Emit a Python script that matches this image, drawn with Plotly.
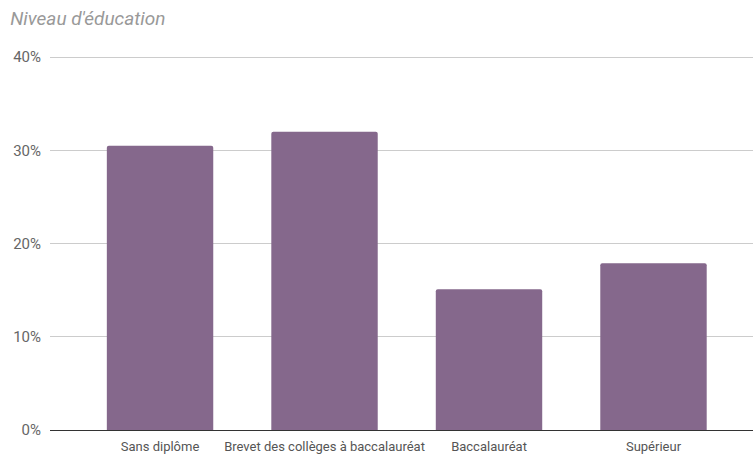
import plotly.graph_objects as go

# Niveau d'éducation - part par niveau
categories = ["Sans diplôme", "Brevet des collèges à baccalauréat", "Baccalauréat", "Supérieur"]
values = [0.305, 0.320, 0.151, 0.179]
y_ticks = [0, 0.1, 0.2, 0.3, 0.4]
y_tick_labels = ["0%", "10%", "20%", "30%", "40%"]

fig = go.Figure(
    go.Bar(
        x=categories,
        y=values,
        width=0.647,
        marker=dict(color="#85688c", line=dict(width=0), cornerradius=2),
        hovertemplate="%{x}: %{y:.1%}<extra></extra>",
    )
)

fig.update_layout(
    width=753,
    height=455,
    margin=dict(l=50, r=0, t=56, b=25),
    paper_bgcolor="white",
    plot_bgcolor="white",
    font=dict(family="Roboto, Arial, sans-serif", color="#444444"),
    title=dict(
        text="<i>Niveau d'éducation</i>",
        x=0.0135,
        xanchor="left",
        y=0.96,
        yanchor="middle",
        font=dict(size=19, color="#999999"),
    ),
    showlegend=False,
)

fig.update_xaxes(
    range=[-0.669, 3.605],
    showgrid=False,
    showline=True,
    linecolor="#333333",
    linewidth=1,
    ticks="",
    ticklabelstandoff=4,
    tickfont=dict(size=13, color="#555555"),
)

# slight headroom so the 40% gridline is drawn
fig.update_yaxes(
    range=[0, 0.4012],
    tickvals=y_ticks,
    ticktext=y_tick_labels,
    showgrid=True,
    gridcolor="#cccccc",
    gridwidth=1,
    zeroline=False,
    showline=False,
    ticks="",
    ticklabelstandoff=8,
    tickfont=dict(size=15, color="#666666"),
)

fig.write_html("out.html")
